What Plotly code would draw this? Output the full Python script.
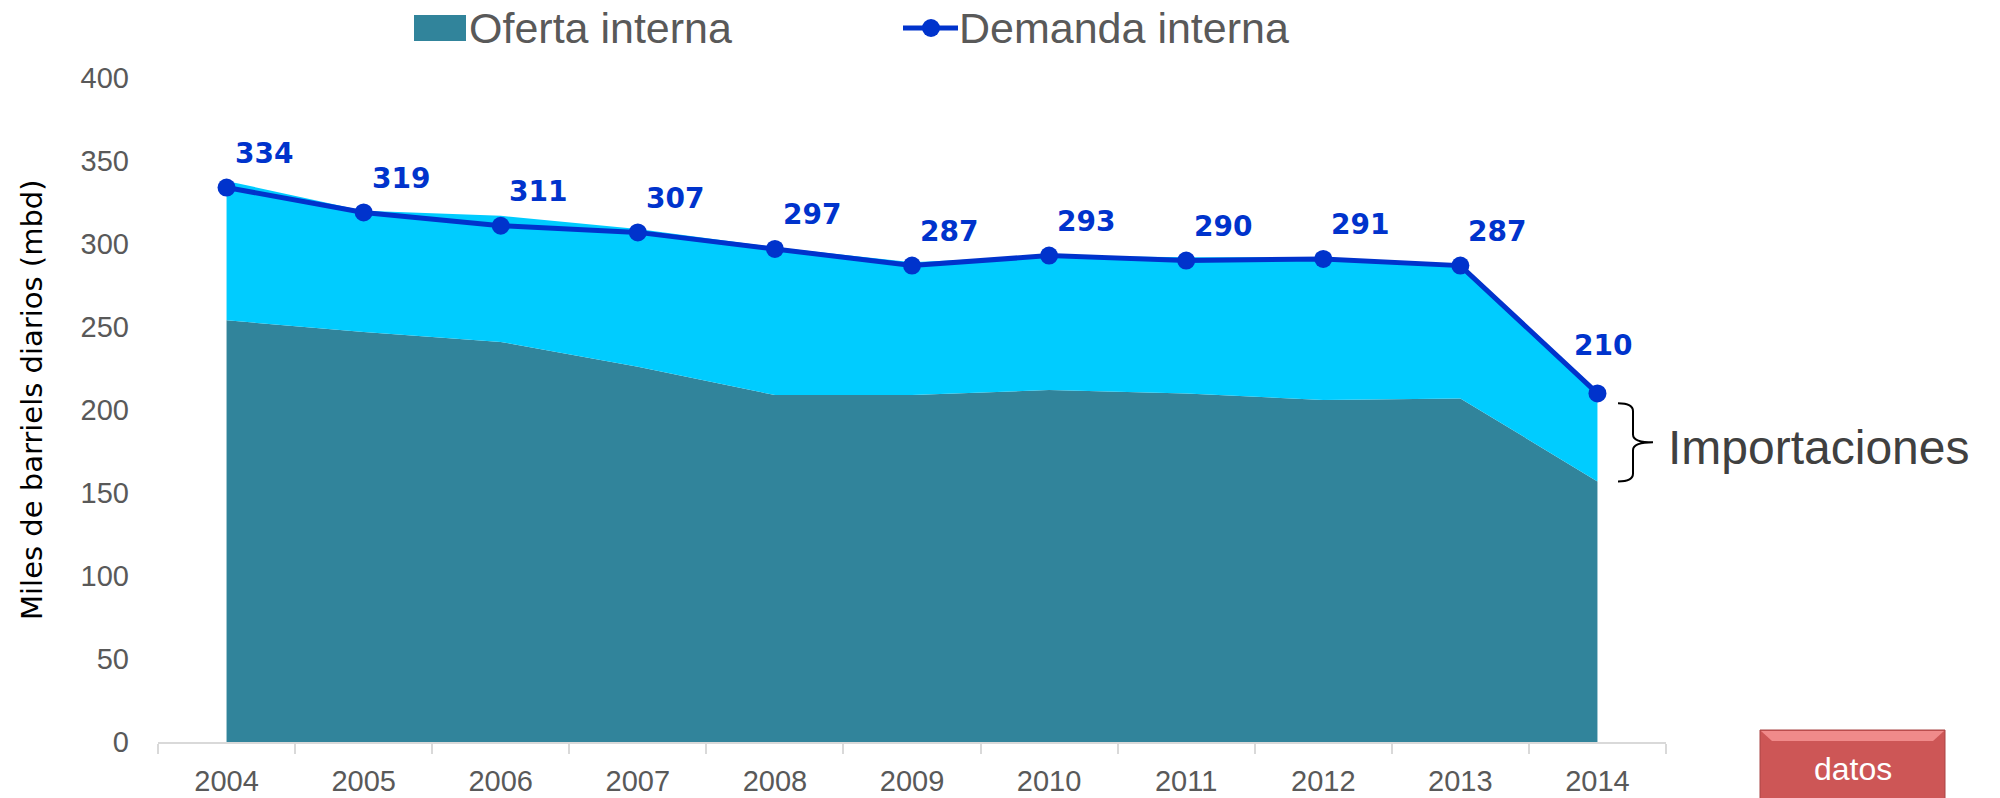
import plotly.graph_objects as go

# ==============================
# datos
# ==============================

anios = ["2004", "2005", "2006", "2007", "2008", "2009", "2010", "2011", "2012", "2013", "2014"]

oferta_interna = [254, 247, 241, 226, 209, 209, 212, 210, 206, 207, 157]
importaciones = [84, 73, 76, 83, 89, 80, 81, 82, 86, 80, 53]
demanda_interna = [334, 319, 311, 307, 297, 287, 293, 290, 291, 287, 210]

y_ticks = [0, 50, 100, 150, 200, 250, 300, 350, 400]

# ==============================
# colores / fuentes
# ==============================

TEAL = "#31849B"
CIAN = "#00CCFF"
AZUL = "#0033CC"
GRIS = "#595959"
Y_MAX = 400

FUENTE = "Liberation Sans, Arial, sans-serif"
FUENTE_V = "DejaVu Sans, Verdana, sans-serif"

fig = go.Figure()

# areas apiladas
fig.add_trace(go.Scatter(
    x=anios, y=oferta_interna, stackgroup="uno", mode="none",
    fillcolor=TEAL, name="Oferta interna", showlegend=False
))
fig.add_trace(go.Scatter(
    x=anios, y=importaciones, stackgroup="uno", mode="none",
    fillcolor=CIAN, name="Importaciones", showlegend=False
))

# linea de demanda
fig.add_trace(go.Scatter(
    x=anios, y=demanda_interna, mode="lines+markers",
    line=dict(color=AZUL, width=5),
    marker=dict(color=AZUL, size=18),
    name="Demanda interna", showlegend=False
))

# etiquetas de demanda (x = indice de categoria)
for i, v in enumerate(demanda_interna):
    ultimo = i == len(demanda_interna) - 1
    fig.add_annotation(
        xref="x", yref="y",
        x=i, y=v, text=f"<b>{v}</b>", showarrow=False,
        xshift=6 if ultimo else 37, yshift=48 if ultimo else 34,
        font=dict(family=FUENTE_V, size=28, color=AZUL)
    )

# ==============================
# leyenda manual (pixeles -> paper)
# ==============================

def px_x(p):
    return (p - 158) / 1508

def px_y(p):
    return (742 - p) / 664

fig.add_shape(type="rect", xref="paper", yref="paper",
              x0=px_x(414), x1=px_x(466), y0=px_y(41), y1=px_y(15),
              fillcolor=TEAL, line=dict(width=0))
fig.add_annotation(xref="paper", yref="paper", x=px_x(467), y=px_y(28),
                   xanchor="left", yanchor="middle", showarrow=False,
                   text="Oferta interna", font=dict(family=FUENTE, size=43, color=GRIS))

fig.add_shape(type="line", xref="paper", yref="paper",
              x0=px_x(903), x1=px_x(958), y0=px_y(28), y1=px_y(28),
              line=dict(color=AZUL, width=5))
fig.add_shape(type="circle", xref="paper", yref="paper",
              xsizemode="pixel", ysizemode="pixel",
              xanchor=px_x(931), yanchor=px_y(28),
              x0=-9, x1=9, y0=-9, y1=9,
              fillcolor=AZUL, line=dict(width=0))
fig.add_annotation(xref="paper", yref="paper", x=px_x(957), y=px_y(28),
                   xanchor="left", yanchor="middle", showarrow=False,
                   text="Demanda interna", font=dict(family=FUENTE, size=43, color=GRIS))

# titulo del eje y
fig.add_annotation(xref="paper", yref="paper", x=px_x(32), y=px_y(400),
                   xanchor="center", yanchor="middle", showarrow=False, textangle=-90,
                   text="Miles de barriels diarios (mbd)",
                   font=dict(family=FUENTE_V, size=29, color="black"))

# ==============================
# llave de importaciones
# ==============================

y_top = (demanda_interna[-1] - 6) / Y_MAX
y_bot = oferta_interna[-1] / Y_MAX
y_mid = (y_top + y_bot) / 2
xl, xm, xr = px_x(1618), px_x(1633), px_x(1653)
d = 0.012
llave = (
    f"M{xl},{y_top} Q{xm},{y_top} {xm},{y_top - d} "
    f"L{xm},{y_mid + d} Q{xm},{y_mid} {xr},{y_mid} "
    f"Q{xm},{y_mid} {xm},{y_mid - d} "
    f"L{xm},{y_bot + d} Q{xm},{y_bot} {xl},{y_bot}"
)
fig.add_shape(type="path", xref="paper", yref="paper", path=llave,
              line=dict(color="black", width=2))
fig.add_annotation(xref="paper", yref="paper", x=px_x(1666), y=y_mid - 0.008,
                   xanchor="left", yanchor="middle", showarrow=False,
                   text="Importaciones", font=dict(family=FUENTE, size=48, color="#404040"))

# ==============================
# boton "datos"
# ==============================

fig.add_shape(type="rect", xref="paper", yref="paper",
              x0=px_x(1760), x1=px_x(1945), y0=px_y(820), y1=px_y(730),
              fillcolor="#CD5656", line=dict(color="#A94444", width=1))
fig.add_shape(type="path", xref="paper", yref="paper",
              path=(f"M{px_x(1761)},{px_y(731)} L{px_x(1944)},{px_y(731)} "
                    f"L{px_x(1933)},{px_y(741)} L{px_x(1772)},{px_y(741)} Z"),
              fillcolor="#F08A8A", line=dict(width=0))
fig.add_annotation(xref="paper", yref="paper", x=px_x(1853), y=px_y(769),
                   xanchor="center", yanchor="middle", showarrow=False,
                   text="datos", font=dict(family=FUENTE, size=32, color="white"))

# ==============================
# layout
# ==============================

fig.update_layout(
    width=2000, height=798,
    margin=dict(l=158, r=334, t=78, b=56),
    paper_bgcolor="white", plot_bgcolor="white",
    showlegend=False,
    xaxis=dict(
        type="category", range=[-0.5, len(anios) - 0.5],
        automargin=False,
        showgrid=False, zeroline=False,
        showline=True, linecolor="#D9D9D9", linewidth=2,
        ticks="outside", tickson="boundaries", ticklen=10, tickcolor="#D9D9D9", tickwidth=2,
        tickfont=dict(family=FUENTE, size=29, color=GRIS),
        ticklabelstandoff=12,
        fixedrange=True
    ),
    yaxis=dict(
        range=[0, Y_MAX], tickvals=y_ticks,
        automargin=False,
        showgrid=False, zeroline=False, showline=False, ticks="",
        tickfont=dict(family=FUENTE, size=29, color=GRIS),
        ticklabelstandoff=28,
        fixedrange=True
    ),
)

# sin margen del body para que la figura ocupe toda la ventana
fig.write_html("out.html", config={"displayModeBar": False},
               post_script="document.body.style.margin='0';")
